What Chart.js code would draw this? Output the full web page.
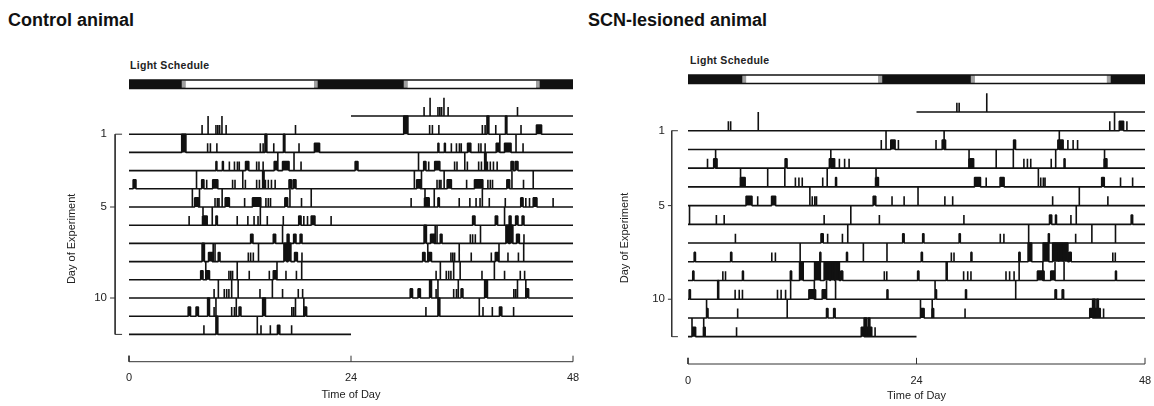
<!DOCTYPE html>
<html>
<head>
<meta charset="utf-8">
<script src="https://cdn.jsdelivr.net/npm/chart.js@4.4.0/dist/chart.umd.min.js"></script>
<style>
    body { margin: 0; background: #fff; font-family: "Liberation Sans", Arial, sans-serif; }
    #page { position: relative; width: 1154px; height: 406px; overflow: hidden; }
    .panel-title { position: absolute; top: 10px; font-size: 18px; font-weight: bold; color: #111; }
    .light-label { position: absolute; font-size: 10.5px; font-weight: bold; color: #222; letter-spacing: 0.3px; }
    canvas { position: absolute; top: 0; }
</style>
</head>
<body>
<div id="page">
    <div class="panel-title" style="left:8px">Control animal</div>
    <div class="panel-title" style="left:588px">SCN-lesioned animal</div>
    <div class="light-label" style="left:130px;top:59px">Light Schedule</div>
    <div class="light-label" style="left:690px;top:54px">Light Schedule</div>
    <canvas id="ctrlChart" width="590" height="406" style="left:0"></canvas>
    <canvas id="scnChart" width="577" height="406" style="left:577px"></canvas>
</div>
<script>
// Activity bouts per day: [start hour, end hour, height in rows]
// start == end is a single tick
const ctrlDay1 = [[7.9,7.9,.5],[8.55,8.55,1],[9.4,9.4,.5],[9.6,9.6,.5],[9.8,9.8,.5],[10.05,10.05,1],[10.5,10.5,.5],[18.0,18.0,.5]];
const ctrlDay2 = [[5.7,6.15,1],[8.5,8.5,.5],[8.8,8.8,.5],[9.5,9.5,.5],[14.2,14.2,.5],[14.5,14.5,.5],[14.7,14.9,1],[15.65,15.65,.5],[16.7,16.85,1],[18.38,18.38,.5],[20.05,20.6,.5]];
const ctrlDay3 = [[9.4,9.5,.5],[10.1,10.2,.5],[10.85,10.85,.5],[11.4,11.4,.5],[11.72,11.72,.5],[11.92,11.92,.5],[12.6,12.95,.5],[13.8,13.8,.5],[14.05,14.05,.5],[14.5,14.5,.5],[15.7,16.05,.5],[16.1,16.1,1],[16.6,17.3,.5],[17.84,17.84,1],[18.6,18.6,.5]];
const ctrlDay4 = [[0.45,0.75,.5],[7.3,7.3,1],[7.86,8.1,.5],[8.4,8.4,.5],[9.05,9.6,.5],[11.2,11.2,.5],[11.46,11.46,.5],[12.3,12.3,1],[12.58,12.58,.5],[13.8,13.8,.5],[14.1,14.1,.5],[14.45,14.45,1],[14.6,14.6,1],[14.75,14.75,.5],[15.06,15.06,.5],[15.4,15.4,.5],[15.8,15.8,.5],[17.3,17.55,.5],[17.75,18.05,.5]];
const ctrlDay5 = [[6.85,6.85,1],[7.1,7.5,.5],[7.62,7.62,1],[9.3,9.3,.5],[9.55,9.55,.5],[9.73,9.73,.5],[10.07,10.07,1],[10.4,10.85,.5],[12.5,12.5,.5],[13.35,14.25,.5],[14.8,14.8,.5],[15.06,15.06,.5],[15.3,15.3,.5],[16.85,17.15,.5],[17.4,17.4,1],[18.65,18.65,.5],[19.7,19.7,1]];
const ctrlDay6 = [[6.5,6.5,.5],[7.95,8.45,.5],[8.0,8.0,1],[9.0,9.0,1],[9.4,9.55,.5],[11.7,11.7,.5],[12.85,12.85,.5],[13.52,13.52,.5],[13.95,13.95,.5],[14.2,14.2,1],[14.95,14.95,.5],[16.68,16.68,.5],[18.35,18.6,.5],[18.9,18.9,.5],[19.3,19.3,.5],[19.7,20.1,.5],[21.85,21.85,.5]];
const ctrlDay7 = [[13.15,13.4,.5],[15.6,15.85,.5],[16.6,16.6,1],[17.1,17.3,.5],[17.8,18.05,.5],[18.5,18.7,.5]];
const ctrlDay8 = [[7.9,8.15,1],[8.6,9.0,.5],[9.1,9.1,1],[9.3,9.3,1],[9.65,9.84,.5],[12.9,12.9,.5],[13.15,13.15,.5],[13.44,13.44,.5],[14.0,14.0,1],[16.75,17.05,1],[17.2,17.5,1],[17.9,18.2,.5],[18.7,18.7,.5]];
const ctrlDay9 = [[7.75,8.0,.5],[8.3,8.3,1],[8.4,8.7,.5],[10.8,10.8,.5],[11.0,11.0,.5],[11.2,11.2,.5],[11.7,11.7,1],[13.0,13.0,.5],[15.17,15.17,.5],[15.6,15.95,.5],[16.0,16.0,1],[16.97,16.97,.5],[18.1,18.1,.5],[18.67,18.67,1]];
const ctrlDay10 = [[9.2,9.2,.5],[9.66,9.66,1],[10.3,10.3,.5],[10.56,10.56,.5],[10.8,10.8,.5],[11.1,11.1,1],[11.8,11.8,1],[14.16,14.16,.5],[15.5,15.5,1],[16.6,16.6,.5],[18.3,18.3,.5],[18.77,18.77,.5]];
const ctrlDay11 = [[6.4,6.65,.5],[7.25,7.5,.5],[8.5,8.7,1],[9.2,9.2,.5],[9.4,9.4,1],[11.1,11.1,.5],[11.4,11.4,.5],[11.6,11.6,1],[11.9,12.1,.5],[14.45,14.75,1],[17.6,17.6,.5],[17.8,17.8,.5],[18.0,18.0,1],[18.9,18.9,1],[19.0,19.2,.5]];
const ctrlDay12 = [[8.1,8.1,.5],[9.4,9.6,1],[13.87,13.87,1],[14.27,14.27,.5],[15.28,15.28,.5],[16.05,16.3,.5],[17.58,17.58,.5]];

const scnDay1 = [[4.24,4.24,.5],[4.48,4.48,.5],[7.38,7.38,1]];
const scnDay2 = [[20.3,20.3,.5],[20.8,20.8,1],[21.3,21.75,.5],[22.1,22.1,.5]];
const scnDay3 = [[2.05,2.05,.5],[2.7,3.05,.5],[2.9,2.9,1],[10.2,10.4,.5],[14.85,15.4,.5],[15.0,15.0,1],[15.9,15.9,.5],[16.45,16.45,.5],[16.92,16.92,.5]];
const scnDay4 = [[5.5,6.0,.5],[5.52,5.52,1],[8.37,8.37,1],[10.17,10.17,1],[11.28,11.28,.5],[11.65,11.65,.5],[12.0,12.0,.5],[14.15,14.15,.5],[14.62,14.62,1],[15.5,15.6,.5],[19.7,20.0,.5],[19.75,19.75,1]];
const scnDay5 = [[6.1,6.72,.5],[7.32,7.32,.5],[8.78,9.2,.5],[12.8,12.8,1],[13.05,13.05,.5],[13.32,13.32,.5],[13.5,13.5,.5],[19.45,19.72,.5],[21.43,21.43,.5],[22.7,22.7,.5]];
const scnDay6 = [[0.16,0.16,1],[2.98,2.98,.5],[3.8,3.8,.5],[14.3,14.3,.5],[17.1,17.1,1],[20.1,20.1,.5]];
const scnDay7 = [[4.98,4.98,.5],[13.97,14.2,.5],[14.6,14.7,.5],[16.22,16.22,.5],[16.78,16.78,1],[22.55,22.7,.5]];
const scnDay8 = [[0.65,0.78,.5],[4.48,4.6,.5],[8.8,8.8,.5],[9.18,9.18,.5],[11.78,11.78,1],[13.85,13.95,.5],[16.65,16.75,.5],[18.42,18.42,1],[20.9,20.9,1]];
const scnDay9 = [[0.5,0.62,.5],[3.66,3.66,.5],[3.94,3.94,.5],[5.72,5.82,.5],[10.75,10.88,.5],[11.72,12.1,1],[13.3,13.9,1],[14.3,14.9,1],[14.95,15.4,1],[15.45,15.9,1],[16.05,16.25,.5],[20.62,20.62,.5],[20.88,20.88,.5]];
const scnDay10 = [[0.12,0.25,.5],[3.12,3.22,1],[4.95,4.95,.5],[5.38,5.38,.5],[5.72,5.72,.5],[9.4,9.4,.5],[9.78,9.78,.5],[10.25,10.25,.5],[10.78,10.78,1],[12.7,13.4,.5],[13.27,13.27,1],[14.1,14.55,.5],[14.55,14.55,1],[15.5,15.5,1],[20.9,21.0,.5]];
const scnDay11 = [[1.95,1.95,1],[1.95,2.1,.5],[5.15,5.25,.5],[10.42,10.42,1],[14.55,14.7,.5],[15.3,15.45,.5]];
const scnDay12 = [[0.42,0.42,1],[0.42,0.8,.5],[1.62,1.8,.5],[1.65,1.65,1],[5.1,5.1,.5],[18.2,19.3,.5],[18.5,18.75,1],[18.95,19.1,1],[19.65,19.65,.5]];

const ctrlDays = [ctrlDay1, ctrlDay2, ctrlDay3, ctrlDay4, ctrlDay5, ctrlDay6, ctrlDay7, ctrlDay8, ctrlDay9, ctrlDay10, ctrlDay11, ctrlDay12];
const scnDays = [scnDay1, scnDay2, scnDay3, scnDay4, scnDay5, scnDay6, scnDay7, scnDay8, scnDay9, scnDay10, scnDay11, scnDay12];

// Light schedule (hours, double plotted)
const lightPeriods = [[6.1, 20], [30.1, 44]];
const twilight = [[5.7, 6.1], [20, 20.4], [29.7, 30.1], [44, 44.4]];

const hourTicks = [0, 24, 48];
const dayTicks = [1, 5, 10];

const INK = '#111';
const LIGHT_Y = -1.75;

// Build the double-plotted row: left half = day r, right half = day r+1
function rowData(days, r) {
    const pts = [];
    const hasLeft = r >= 1;
    const hasRight = r < days.length;
    const events = [];
    if (hasLeft) days[r - 1].forEach(e => events.push(e));
    if (hasRight) days[r].forEach(e => events.push([e[0] + 24, e[1] + 24, e[2]]));
    events.sort((a, b) => a[0] - b[0]);
    pts.push({ x: hasLeft ? 0 : 24, y: r });
    events.forEach(([a, b, h]) => {
        pts.push({ x: a, y: r }, { x: a, y: r - h }, { x: b, y: r - h }, { x: b, y: r });
    });
    pts.push({ x: hasRight ? 48 : 24, y: r });
    return pts;
}

function buildDatasets(days, geo) {
    const sets = [];

    // light schedule bar (higher order = drawn underneath)
    sets.push({ data: [{ x: 0, y: LIGHT_Y }, { x: 48, y: LIGHT_Y }], borderColor: INK, borderWidth: 10, order: 5 });
    lightPeriods.forEach(p => {
        sets.push({ data: [{ x: p[0], y: LIGHT_Y }, { x: p[1], y: LIGHT_Y }], borderColor: '#fff', borderWidth: 7, order: 4 });
    });
    twilight.forEach(p => {
        sets.push({ data: [{ x: p[0], y: LIGHT_Y }, { x: p[1], y: LIGHT_Y }], borderColor: '#a0a0a0', borderWidth: 7, order: 4 });
    });

    // actogram rows
    for (let r = 0; r <= days.length; r++) {
        sets.push({
            data: rowData(days, r),
            borderColor: INK,
            backgroundColor: INK,
            borderWidth: 1.6,
            borderJoinStyle: 'bevel',
            fill: { value: r },
            order: 1
        });
    }

    // day bracket on the left
    const bx = geo.bracketX;
    sets.push({
        data: [
            { x: bx + geo.capLen, y: 1 }, { x: bx, y: 1 }, { x: bx, y: 12 }, { x: bx + geo.capLen, y: 12 },
            { x: bx, y: null },
            { x: bx - geo.tickLen, y: 5 }, { x: bx, y: 5 },
            { x: bx, y: null },
            { x: bx - geo.tickLen, y: 10 }, { x: bx, y: 10 }
        ],
        borderColor: '#333', borderWidth: 1, order: 1
    });

    // time bracket at the bottom
    const yb = geo.axisY, yt = geo.axisY - 0.33;
    sets.push({
        data: [
            { x: 0, y: yt }, { x: 0, y: yb }, { x: 48, y: yb }, { x: 48, y: yt },
            { x: 48, y: null },
            { x: 24, y: yb }, { x: 24, y: yt }
        ],
        borderColor: '#333', borderWidth: 1, order: 1
    });

    return sets;
}

function makeChart(id, days, geo) {
    const ctx = document.getElementById(id).getContext('2d');
    return new Chart(ctx, {
        type: 'line',
        data: { datasets: buildDatasets(days, geo) },
        options: {
            responsive: false,
            animation: false,
            events: [],
            layout: { padding: { left: 0, right: geo.padRight, top: geo.padTop, bottom: 0 } },
            elements: {
                point: { radius: 0 },
                line: { tension: 0, borderCapStyle: 'butt', fill: false }
            },
            datasets: { line: { clip: false, spanGaps: false } },
            plugins: {
                legend: { display: false },
                tooltip: { enabled: false }
            },
            scales: {
                x: {
                    type: 'linear',
                    min: 0,
                    max: 48,
                    grid: { display: false, drawTicks: false },
                    border: { display: false },
                    afterBuildTicks: axis => { axis.ticks = hourTicks.map(v => ({ value: v })); },
                    afterFit: axis => {
                        axis.height = geo.xAxisHeight;
                        axis.paddingLeft = 0;
                        axis.paddingRight = 0;
                    },
                    ticks: {
                        color: '#222',
                        padding: geo.xLabelPad,
                        maxRotation: 0,
                        font: { family: 'Liberation Sans', size: 11 }
                    },
                    title: {
                        display: true,
                        text: 'Time of Day',
                        color: '#222',
                        padding: { top: 0, bottom: geo.xTitlePad },
                        font: { family: 'Liberation Sans', size: 11 }
                    }
                },
                y: {
                    type: 'linear',
                    reverse: true,
                    min: 0,
                    max: geo.axisY,
                    grid: { display: false, drawTicks: false },
                    border: { display: false },
                    afterBuildTicks: axis => { axis.ticks = dayTicks.map(v => ({ value: v })); },
                    afterFit: axis => {
                        axis.width = geo.yAxisWidth;
                        axis.paddingTop = 0;
                        axis.paddingBottom = 0;
                    },
                    ticks: {
                        color: '#222',
                        padding: geo.yLabelPad,
                        font: { family: 'Liberation Sans', size: 11.5 }
                    },
                    title: {
                        display: true,
                        text: 'Day of Experiment',
                        color: '#222',
                        padding: { top: geo.yTitlePad, bottom: 0 },
                        font: { family: 'Liberation Sans', size: 11 }
                    }
                }
            }
        }
    });
}

makeChart('ctrlChart', ctrlDays, {
    padTop: 116, padRight: 17, yAxisWidth: 129, xAxisHeight: 44.3,
    axisY: 13.5, bracketX: -1.5, capLen: 0.75, tickLen: 0.55,
    yLabelPad: 22, yTitlePad: 65, xLabelPad: 10, xTitlePad: 4
});

makeChart('scnChart', scnDays, {
    padTop: 112, padRight: 9, yAxisWidth: 111, xAxisHeight: 42,
    axisY: 13.46, bracketX: -1.71, capLen: 0.65, tickLen: 0.4,
    yLabelPad: 23, yTitlePad: 41, xLabelPad: 10, xTitlePad: 3
});
</script>
</body>
</html>
